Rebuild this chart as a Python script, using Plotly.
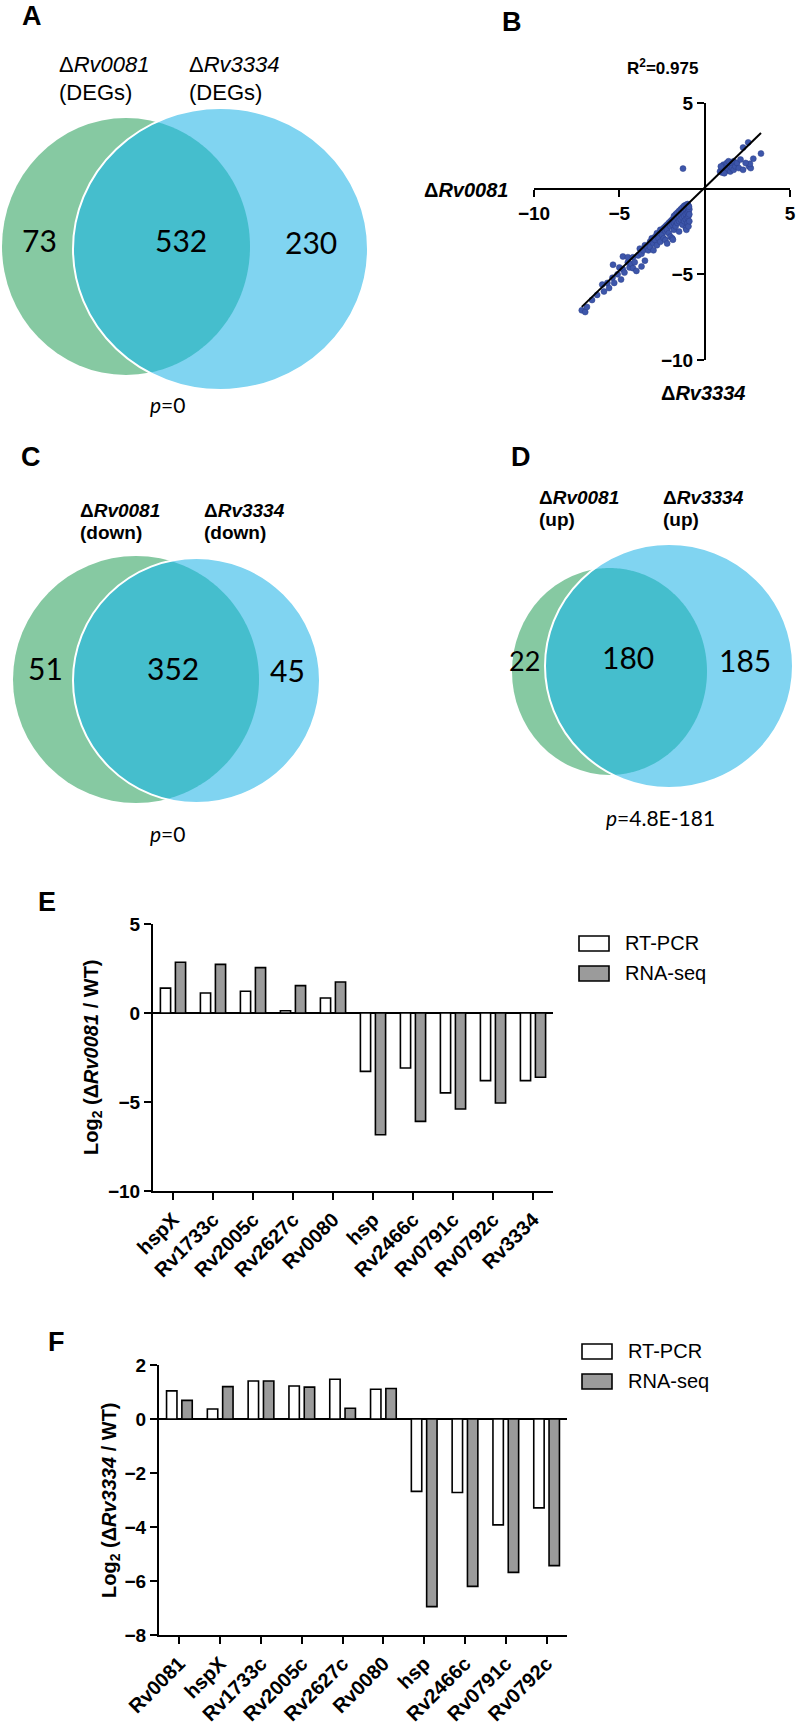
import numpy as np
import plotly.graph_objects as go

W, H = 800, 1725
ARIAL = "Liberation Sans, Arial, sans-serif"
CALIBRI = "Lato, Carlito, sans-serif"

def px(x):
    return x / W

def py(y):
    return 1 - y / H

# ---------------- data ----------------
vennA_counts = [73, 532, 230]
vennC_counts = [51, 352, 45]
vennD_counts = [22, 180, 185]
vennA_p = "0"
vennC_p = "0"
vennD_p = "4.8E-181"
r_squared = "0.975"

scatter_x = [-7.2, -7.0, -6.9, -6.6, -6.3, -6.0, -5.9, -5.7, -5.6, -5.4, -5.37, -5.3, -5.1, -5.0,
             -4.9, -4.8, -4.79, -4.7, -4.5, -4.5, -4.4, -4.3, -4.2, -4.2, -4.1, -4.0, -3.9, -3.8,
             -3.7, -3.7, -3.6, -3.5, -3.5, -3.4, -3.3, -3.2, -3.2, -3.1, -3.0, -3.0, -2.9, -2.9,
             -2.8, -2.8, -2.7, -2.7, -2.6, -2.6, -2.5, -2.5, -2.4, -2.4, -2.3, -2.3, -2.3, -2.2,
             -2.2, -2.2, -2.1, -2.1, -2.0, -2.0, -2.0, -1.9, -1.9, -1.9, -1.86, -1.8, -1.8, -1.8,
             -1.7, -1.7, -1.7, -1.6, -1.6, -1.6, -1.5, -1.5, -1.5, -1.5, -1.4, -1.4, -1.4, -1.3,
             -1.3, -1.3, -1.3, -1.2, -1.2, -1.2, -1.2, -1.1, -1.1, -1.1, -1.1, -1.1, -1.07, -1.0,
             -1.0, -1.0, -1.0, -1.0, -0.95, -0.95, -0.95, -0.95, -0.9, -0.9, -0.9, -0.92,
             -1.27,
             0.9, 1.0, 1.0, 1.1, 1.1, 1.2, 1.2, 1.3, 1.3, 1.4, 1.4, 1.5, 1.5, 1.6, 1.6, 1.7, 1.7,
             1.8, 1.9, 2.0, 2.1, 2.25, 2.55, 2.25, 2.6, 2.7, 2.65, 2.85, 3.3, 2.4, 1.15, 0.95]
scatter_y = [-7.1, -7.2, -6.9, -6.5, -6.2, -5.6, -6.0, -5.5, -5.8, -5.2, -4.44, -5.5, -5.0, -4.6,
             -5.3, -4.7, -3.96, -4.9, -4.3, -4.0, -4.6, -4.4, -4.0, -4.64, -4.3, -4.8, -3.9, -3.5,
             -3.8, -4.54, -3.6, -3.3, -4.2, -3.4, -3.6, -3.1, -3.4, -2.9, -3.2, -3.6, -2.8, -3.0,
             -2.6, -3.3, -2.7, -2.9, -2.4, -3.1, -2.5, -2.7, -2.3, -2.9, -2.2, -2.5, -3.0, -2.1,
             -2.4, -3.2, -2.0, -2.6, -1.9, -2.2, -2.8, -1.8, -2.1, -2.9, -2.98, -1.6, -2.0, -2.4,
             -1.5, -1.9, -2.2, -1.4, -1.7, -2.0, -1.3, -1.6, -1.9, -2.5, -1.2, -1.5, -1.8, -1.1,
             -1.4, -1.7, -2.1, -1.0, -1.3, -1.6, -1.9, -0.95, -1.2, -1.5, -1.8, -2.3, -2.4, -0.9,
             -1.1, -1.4, -1.7, -2.0, -1.0, -1.3, -1.6, -2.2, -1.2, -1.9, -1.5, -1.05,
             1.17,
             1.0, 1.2, 0.95, 1.4, 1.1, 1.3, 1.0, 1.5, 1.2, 1.1, 1.6, 1.3, 1.0, 1.45, 1.2, 1.1, 1.6,
             1.3, 1.5, 1.2, 1.7, 2.4, 2.7, 1.1, 1.3, 1.2, 1.45, 1.75, 2.05, 1.5, 0.9, 1.3]
fit_x = [-7.2, 3.3]
fit_y = [-6.9, 3.25]

E_genes = ["hspX", "Rv1733c", "Rv2005c", "Rv2627c", "Rv0080", "hsp", "Rv2466c", "Rv0791c", "Rv0792c", "Rv3334"]
E_rtpcr = [1.40, 1.12, 1.22, 0.13, 0.84, -3.28, -3.09, -4.49, -3.80, -3.80]
E_rnaseq = [2.85, 2.73, 2.55, 1.54, 1.74, -6.84, -6.09, -5.39, -5.06, -3.61]

F_genes = ["Rv0081", "hspX", "Rv1733c", "Rv2005c", "Rv2627c", "Rv0080", "hsp", "Rv2466c", "Rv0791c", "Rv0792c"]
F_rtpcr = [1.04, 0.37, 1.41, 1.22, 1.47, 1.10, -2.68, -2.72, -3.92, -3.29]
F_rnaseq = [0.69, 1.20, 1.41, 1.18, 0.40, 1.13, -6.95, -6.20, -5.68, -5.43]

series_names = ["RT-PCR", "RNA-seq"]

# ---------------- style ----------------
GREEN = "#86C9A2"
BLUE = "#80D4F1"
TEAL = "#45BECD"
GREY = "#9B9B9B"
DOT = "#3D56AA"

fig = go.Figure()

# ---------------- Panel B scatter ----------------
fig.add_trace(go.Scatter(x=scatter_x, y=scatter_y, mode="markers", xaxis="x", yaxis="y",
                         marker=dict(size=6, color=DOT, line=dict(width=0.5, color="#2A3F8A")),
                         showlegend=False))
fig.add_trace(go.Scatter(x=fit_x, y=fit_y, mode="lines", xaxis="x", yaxis="y",
                         line=dict(color="black", width=2), showlegend=False))

# ---------------- Panel E / F bars ----------------
for xa, ya, genes, rt, rna in [("x2", "y2", E_genes, E_rtpcr, E_rnaseq),
                               ("x3", "y3", F_genes, F_rtpcr, F_rnaseq)]:
    fig.add_trace(go.Bar(x=genes, y=rt, name=series_names[0], xaxis=xa, yaxis=ya,
                         marker=dict(color="white", line=dict(color="black", width=1.6)),
                         showlegend=False))
    fig.add_trace(go.Bar(x=genes, y=rna, name=series_names[1], xaxis=xa, yaxis=ya,
                         marker=dict(color=GREY, line=dict(color="black", width=1.6)),
                         showlegend=False))

axis_common = dict(showgrid=False, showline=True, linecolor="black", linewidth=2, automargin=False,
                   ticks="outside", ticklen=7, tickwidth=2, tickcolor="black")
bold_tick = dict(family=ARIAL, size=19, color="black", weight="bold")
cat_tick = dict(family=ARIAL, size=20, color="black", weight="bold")

layout = dict(
    width=W, height=H, margin=dict(l=0, r=0, t=0, b=0, pad=0, autoexpand=False),
    paper_bgcolor="white", plot_bgcolor="white",
    barmode="group", bargap=0.25, bargroupgap=0.32,
    xaxis=dict(domain=[px(534), px(790)], range=[-10, 5], anchor="free", position=py(189),
               tickvals=[-10, -5, 5], zeroline=False, tickfont=bold_tick, **axis_common),
    yaxis=dict(domain=[py(360), py(103)], range=[-10, 5], anchor="free", position=px(705),
               tickvals=[-10, -5, 5], zeroline=False, tickfont=bold_tick, **axis_common),
    xaxis2=dict(domain=[px(153), px(553)], anchor="y2", type="category", range=[-0.5, 9.5],
                tickangle=-45, zeroline=False, tickfont=cat_tick, **axis_common),
    yaxis2=dict(domain=[py(1191), py(924)], anchor="x2", range=[-10, 5], tickvals=[-10, -5, 0, 5],
                zeroline=True, zerolinecolor="black", zerolinewidth=2, tickfont=bold_tick, **axis_common),
    xaxis3=dict(domain=[px(159), px(567)], anchor="y3", type="category", range=[-0.5, 9.5],
                tickangle=-45, zeroline=False, tickfont=cat_tick, **axis_common),
    yaxis3=dict(domain=[py(1635), py(1365)], anchor="x3", range=[-8, 2], tickvals=[-8, -6, -4, -2, 0, 2],
                zeroline=True, zerolinecolor="black", zerolinewidth=2, tickfont=bold_tick, **axis_common),
)
fig.update_layout(**layout)

# ---------------- Venn geometry ----------------
shapes = []

def ellipse_pts(cx, cy, rx, ry, n=360):
    t = np.linspace(0, 2 * np.pi, n, endpoint=False)
    return cx + rx * np.cos(t), cy + ry * np.sin(t)

def inside(x, y, e):
    cx, cy, rx, ry = e
    return ((x - cx) / rx) ** 2 + ((y - cy) / ry) ** 2 <= 1.0

def add_venn(g, b):
    for e, col in [(g, GREEN), (b, BLUE)]:
        cx, cy, rx, ry = e
        shapes.append(dict(type="circle", xref="paper", yref="paper",
                           x0=px(cx - rx), x1=px(cx + rx), y0=py(cy + ry), y1=py(cy - ry),
                           fillcolor=col, line=dict(width=0), layer="below"))
    gx, gy = ellipse_pts(*g)
    bx, by = ellipse_pts(*b)
    m1 = inside(bx, by, g)
    m2 = inside(gx, gy, b)
    xs = np.concatenate([bx[m1], gx[m2]])
    ys = np.concatenate([by[m1], gy[m2]])
    ccx, ccy = xs.mean(), ys.mean()
    order = np.argsort(np.arctan2(ys - ccy, xs - ccx))
    xs, ys = xs[order], ys[order]
    path = "M " + " L ".join(f"{px(x):.5f},{py(y):.5f}" for x, y in zip(xs, ys)) + " Z"
    shapes.append(dict(type="path", xref="paper", yref="paper", path=path,
                       fillcolor=TEAL, line=dict(width=0), layer="below"))
    cx, cy, rx, ry = b
    shapes.append(dict(type="circle", xref="paper", yref="paper",
                       x0=px(cx - rx), x1=px(cx + rx), y0=py(cy + ry), y1=py(cy - ry),
                       fillcolor="rgba(0,0,0,0)", line=dict(width=2, color="white"), layer="below"))

add_venn((126, 246.5, 124, 128.5), (220.5, 249, 147.5, 141))
add_venn((136, 679.5, 123, 123.5), (196.5, 680.5, 123.5, 122.5))
add_venn((609.5, 671.5, 97.5, 103.5), (669, 666, 124, 122))

# manual legends for E and F
for (bx0, by0) in [(579, 936), (582, 1344)]:
    for i, col in enumerate(["white", GREY]):
        shapes.append(dict(type="rect", xref="paper", yref="paper",
                           x0=px(bx0), x1=px(bx0 + 30), y0=py(by0 + 30 * i + 15), y1=py(by0 + 30 * i),
                           fillcolor=col, line=dict(color="black", width=1.6)))

fig.update_layout(shapes=shapes)

# ---------------- annotations ----------------
anns = []

def ann(text, x, y, size, family=ARIAL, bold=False, xanchor="center", yanchor="middle", angle=0):
    f = dict(family=family, size=size, color="black")
    if bold:
        f["weight"] = "bold"
    anns.append(dict(text=text, x=px(x), y=py(y), xref="paper", yref="paper", showarrow=False,
                     xanchor=xanchor, yanchor=yanchor, font=f, textangle=angle,
                     borderpad=0, borderwidth=0))

# panel letters
for letter, x, y in [("A", 32, 16), ("B", 512, 22), ("C", 31, 457), ("D", 521, 457), ("E", 47, 902), ("F", 57, 1342)]:
    ann(letter, x, y, 27, bold=True)

# Venn A
ann("Δ<i>Rv0081</i>", 59, 65, 22, xanchor="left")
ann("(DEGs)", 59, 92, 22, xanchor="left")
ann("Δ<i>Rv3334</i>", 189, 65, 22, xanchor="left")
ann("(DEGs)", 189, 92, 22, xanchor="left")
for v, x, y in zip(vennA_counts, [39, 181, 311], [240, 240, 242]):
    ann(str(v), x, y, 30, family=CALIBRI)
ann("<i>p</i>=" + vennA_p, 167, 404, 21, family=CALIBRI)

# Venn C
ann("Δ<i>Rv0081</i>", 80, 510, 19, bold=True, xanchor="left")
ann("(down)", 80, 533, 19, bold=True, xanchor="left")
ann("Δ<i>Rv3334</i>", 204, 510, 19, bold=True, xanchor="left")
ann("(down)", 204, 533, 19, bold=True, xanchor="left")
for v, x, y in zip(vennC_counts, [45, 173, 287], [668, 668, 670]):
    ann(str(v), x, y, 30, family=CALIBRI)
ann("<i>p</i>=" + vennC_p, 167, 833, 21, family=CALIBRI)

# Venn D
ann("Δ<i>Rv0081</i>", 539, 497, 19, bold=True, xanchor="left")
ann("(up)", 539, 520, 19, bold=True, xanchor="left")
ann("Δ<i>Rv3334</i>", 663, 497, 19, bold=True, xanchor="left")
ann("(up)", 663, 520, 19, bold=True, xanchor="left")
for v, x, y, s in zip(vennD_counts, [524, 628, 745], [660, 657, 660], [27, 30, 30]):
    ann(str(v), x, y, s, family=CALIBRI)
ann("<i>p</i>=" + vennD_p, 660, 817, 21, family=CALIBRI)

# Panel B texts
ann("R<sup>2</sup>=" + r_squared, 662, 67, 17, bold=True)
ann("Δ<i>Rv0081</i>", 466, 190, 20, bold=True)
ann("Δ<i>Rv3334</i>", 703, 393, 20, bold=True)

# Bar chart y titles
ann("Log<sub>2</sub> (Δ<i>Rv0081</i> / WT)", 92, 1057, 20, bold=True, angle=-90)
ann("Log<sub>2</sub> (Δ<i>Rv3334</i> / WT)", 110, 1500, 20, bold=True, angle=-90)

# legend texts
for (tx, ty) in [(625, 943), (628, 1351)]:
    for i, name in enumerate(series_names):
        ann(name, tx, ty + 30 * i, 20, xanchor="left")

fig.update_layout(annotations=anns)

fig.write_html("out.html", config={"displayModeBar": False},
               post_script="document.body.style.margin='0px';")
